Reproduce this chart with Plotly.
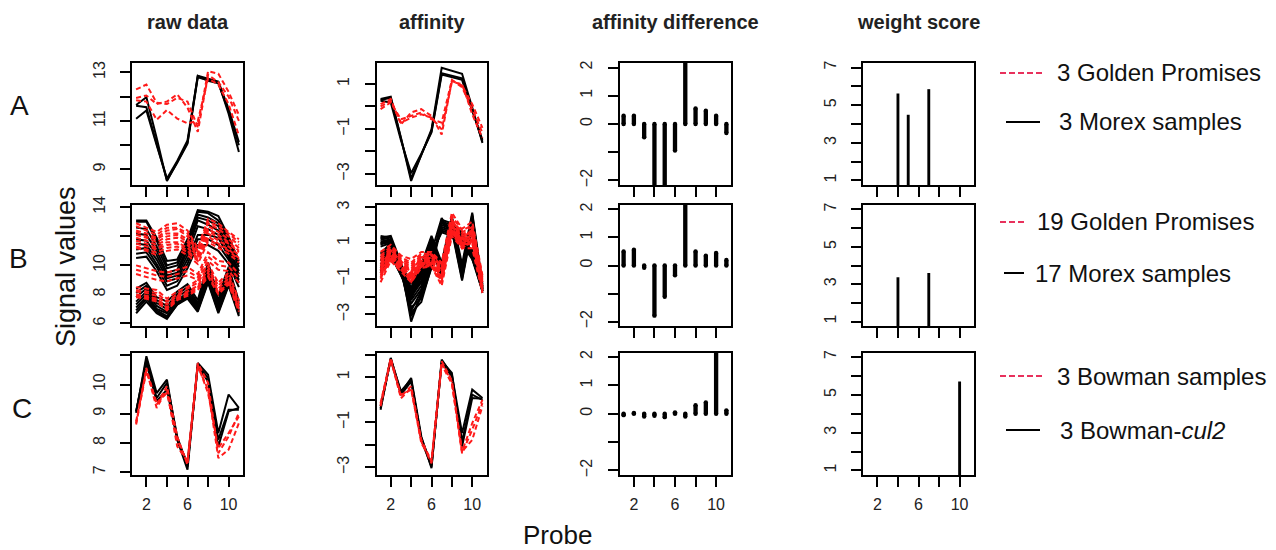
import plotly.graph_objects as go

# ---------------- data ----------------
probes = [1, 2, 3, 4, 5, 6, 7, 8, 9, 10, 11]

# Row A: 3 Golden Promises (red dashed) vs 3 Morex (black)
raw_A_morex = [
    [11.66, 11.98, 10.30, 8.52, 9.31, 10.10, 12.86, 12.73, 12.62, 11.50, 10.13],
    [11.63, 11.57, 10.06, 8.56, 9.28, 10.06, 12.80, 12.68, 12.60, 11.30, 9.72],
    [11.09, 11.43, 10.00, 8.63, 9.35, 10.20, 12.86, 12.66, 12.55, 11.42, 10.00],
]
raw_A_golden = [
    [12.30, 12.50, 11.75, 11.70, 11.95, 11.80, 10.75, 13.05, 12.95, 12.20, 11.25],
    [11.95, 12.05, 11.70, 11.80, 12.10, 11.55, 10.55, 12.90, 12.60, 12.00, 11.00],
    [11.85, 11.80, 11.05, 11.45, 11.10, 10.90, 11.00, 12.75, 12.50, 11.70, 10.40],
]
aff_A_morex = [
    [0.33, 0.43, -1.40, -3.31, -2.15, -1.02, 1.72, 1.60, 1.45, -0.05, -1.62],
    [0.25, 0.18, -1.50, -2.97, -2.10, -1.15, 1.42, 1.30, 1.18, -0.20, -1.48],
    [0.28, 0.38, -1.40, -3.19, -2.15, -1.10, 1.48, 1.38, 1.25, -0.12, -1.57],
]
aff_A_golden = [
    [0.10, 0.33, -0.80, -0.27, -0.12, -0.42, -1.25, 1.15, 0.93, 0.10, -0.95],
    [-0.12, 0.18, -0.57, -0.42, -0.27, -0.57, -0.72, 1.18, 0.85, -0.12, -1.17],
    [0.00, 0.25, -0.72, -0.50, -0.35, -0.50, -1.02, 1.08, 1.00, -0.35, -1.40],
]
diff_A = [0.29, 0.29, -0.47, -2.5, -2.5, -0.94, 2.5, 0.55, 0.47, 0.29, -0.32]
weight_A = [0, 0, 0, 5.62, 4.49, 0, 5.85, 0, 0, 0, 0]

# Row B: 19 Golden Promises (red dashed) vs 17 Morex (black)
raw_B_morex = [
    [13.1, 13.1, 11.9, 10.3, 10.4, 11.8, 13.8, 13.7, 13.4, 12.0, 10.3],
    [13.0, 13.0, 11.7, 10.0, 10.2, 11.6, 13.7, 13.6, 13.1, 11.8, 10.1],
    [12.6, 12.5, 11.3, 9.8, 10.0, 11.4, 13.5, 13.3, 12.9, 11.6, 9.9],
    [12.2, 12.1, 11.0, 9.5, 9.7, 11.2, 13.3, 13.1, 12.7, 11.3, 9.6],
    [11.8, 11.7, 10.7, 9.3, 9.5, 11.0, 13.1, 12.8, 12.4, 11.1, 9.4],
    [11.5, 11.4, 10.4, 9.1, 9.3, 10.7, 12.7, 12.5, 12.1, 10.8, 9.2],
    [11.1, 11.2, 10.1, 8.9, 9.1, 10.4, 12.1, 12.1, 11.9, 10.6, 9.0],
    [10.8, 10.9, 9.9, 8.6, 8.9, 10.1, 11.8, 11.8, 11.4, 10.4, 8.8],
    [10.5, 10.6, 9.6, 8.3, 8.6, 9.8, 11.4, 11.4, 11.0, 10.1, 8.5],
    [8.4, 8.8, 7.8, 7.5, 8.2, 8.7, 7.6, 10.2, 7.9, 9.9, 7.5],
    [8.1, 8.6, 7.6, 7.2, 8.0, 8.5, 7.4, 9.9, 7.6, 9.6, 7.3],
    [7.8, 8.4, 7.4, 7.0, 7.8, 8.3, 7.3, 9.7, 7.4, 9.4, 7.1],
    [7.5, 8.2, 7.2, 6.8, 7.6, 8.1, 7.2, 9.5, 7.2, 9.2, 6.9],
    [7.3, 8.0, 7.0, 6.7, 7.5, 8.0, 7.1, 9.3, 7.0, 9.0, 6.8],
    [7.1, 7.8, 6.9, 6.5, 7.4, 7.9, 7.0, 9.1, 6.9, 8.8, 6.7],
    [6.9, 7.7, 6.8, 6.4, 7.3, 7.8, 6.9, 8.9, 6.8, 8.7, 6.6],
    [6.7, 7.5, 6.7, 6.3, 7.3, 7.7, 6.8, 8.8, 6.7, 8.6, 6.5],
]
raw_B_golden = [
    [12.9, 12.6, 12.3, 12.8, 12.9, 12.4, 11.2, 13.2, 12.9, 12.3, 11.8],
    [12.7, 12.4, 12.1, 12.6, 12.6, 12.2, 11.0, 13.0, 12.7, 12.2, 11.6],
    [12.4, 12.2, 11.9, 12.4, 12.5, 12.0, 10.9, 12.9, 12.5, 12.0, 11.4],
    [12.3, 12.0, 11.8, 12.2, 12.2, 11.8, 10.8, 12.7, 12.3, 11.8, 11.2],
    [12.1, 11.9, 11.6, 12.0, 12.1, 11.6, 10.7, 12.5, 12.1, 11.6, 11.0],
    [11.9, 11.7, 11.4, 11.8, 11.9, 11.4, 10.6, 12.4, 11.9, 11.5, 10.9],
    [11.7, 11.5, 11.2, 11.6, 11.6, 11.2, 10.5, 12.2, 11.7, 11.3, 10.7],
    [11.5, 11.3, 11.1, 11.4, 11.5, 11.0, 10.4, 12.0, 11.5, 11.1, 10.5],
    [11.3, 11.1, 10.9, 11.2, 11.3, 10.9, 10.3, 11.8, 11.4, 11.0, 10.4],
    [11.2, 11.0, 10.7, 11.0, 11.1, 10.7, 10.1, 11.6, 11.2, 10.8, 10.2],
    [10.0, 9.8, 9.6, 9.5, 9.7, 9.9, 9.4, 10.9, 10.3, 10.2, 9.4],
    [9.7, 9.5, 9.3, 9.2, 9.4, 9.6, 9.2, 10.6, 10.0, 9.9, 9.1],
    [9.4, 9.2, 9.0, 8.9, 9.1, 9.3, 9.0, 10.3, 9.7, 9.6, 8.8],
    [8.5, 8.4, 8.3, 7.7, 8.2, 8.5, 9.0, 10.1, 8.8, 9.5, 7.6],
    [8.3, 8.2, 8.1, 7.5, 8.0, 8.4, 8.8, 9.9, 8.6, 9.3, 7.4],
    [8.2, 8.1, 7.9, 7.3, 7.9, 8.2, 8.6, 9.7, 8.4, 9.1, 7.2],
    [8.0, 7.9, 7.7, 7.1, 7.8, 8.1, 8.5, 9.5, 8.2, 8.9, 7.0],
    [7.9, 7.8, 7.6, 7.0, 7.7, 8.0, 8.4, 9.3, 8.1, 8.8, 6.9],
    [7.8, 7.7, 7.5, 6.9, 7.6, 7.9, 8.3, 9.2, 8.0, 8.7, 6.8],
]
aff_B_morex = [
    [1.4, 1.3, -0.3, -2.6, -2.1, -0.4, 2.0, 1.8, 1.5, 0.3, -1.5],
    [1.3, 1.2, -0.4, -2.9, -2.3, -0.3, 2.2, 2.0, 1.6, 0.2, -1.6],
    [1.2, 1.1, -0.5, -3.1, -2.0, -0.2, 2.3, 2.1, 1.4, 0.1, -1.7],
    [1.1, 1.0, -0.2, -3.4, -1.8, 0.0, 2.1, 1.9, 1.3, 0.4, -1.5],
    [1.0, 0.9, -0.6, -2.8, -1.7, 0.1, 1.9, 1.7, 1.2, 0.5, -1.4],
    [0.9, 1.2, -0.4, -2.4, -1.6, 0.2, 1.8, 1.6, 1.1, 0.6, -1.6],
    [1.3, 1.4, -0.1, -2.2, -1.4, 0.3, 1.7, 1.5, 1.0, 0.2, -1.7],
    [1.0, 1.1, -0.3, -2.0, -1.2, 0.4, 1.6, 1.4, 1.2, 0.3, -1.5],
    [0.8, 1.0, -0.5, -1.9, -1.1, 0.5, 2.4, 1.3, 0.9, 0.1, -1.4],
    [0.4, 1.0, -0.2, -1.3, -0.2, 1.4, -0.1, 2.5, -0.2, 2.7, -1.3],
    [0.2, 0.9, -0.3, -1.5, -0.3, 1.3, -0.3, 2.4, -0.4, 2.6, -1.4],
    [0.0, 0.8, -0.4, -1.6, -0.4, 1.2, -0.4, 2.2, -0.6, 2.5, -1.5],
    [-0.2, 0.7, -0.5, -1.7, -0.5, 1.1, -0.5, 2.1, -0.7, 2.3, -1.6],
    [-0.4, 0.6, -0.6, -1.8, -0.6, 1.0, -0.6, 2.0, -0.8, 2.2, -1.6],
    [-0.5, 0.5, -0.7, -1.9, -0.7, 0.9, -0.7, 1.9, -0.9, 2.1, -1.7],
    [-0.6, 0.4, -0.8, -2.0, -0.8, 0.8, -0.8, 1.8, -1.0, 2.0, -1.7],
    [-0.7, 0.3, -0.8, -2.1, -0.9, 0.7, -0.9, 1.7, -1.1, 1.9, -1.8],
]
aff_B_golden = [
    [0.5, 0.9, 0.3, 0.1, 0.5, 0.5, -0.1, 2.7, 1.8, 2.2, -0.8],
    [0.3, 0.8, 0.2, -0.1, 0.4, 0.4, -0.3, 2.5, 1.7, 2.0, -0.9],
    [0.2, 0.7, 0.1, -0.2, 0.3, 0.3, -0.4, 2.3, 1.6, 1.9, -1.0],
    [0.1, 0.6, 0.0, -0.3, 0.2, 0.2, -0.5, 2.2, 1.5, 1.7, -1.1],
    [0.0, 0.5, -0.1, -0.4, 0.1, 0.1, -0.6, 2.1, 1.4, 1.6, -1.1],
    [-0.1, 0.4, -0.2, -0.5, 0.0, 0.0, -0.7, 2.0, 1.3, 1.5, -1.2],
    [-0.2, 0.3, -0.2, -0.6, -0.1, 0.0, -0.8, 1.9, 1.2, 1.4, -1.2],
    [-0.3, 0.3, -0.3, -0.7, -0.1, -0.1, -0.9, 1.8, 1.1, 1.3, -1.3],
    [-0.4, 0.2, -0.3, -0.8, -0.2, -0.1, -1.0, 1.7, 1.0, 1.2, -1.3],
    [-0.5, 0.2, -0.4, -0.8, -0.2, -0.2, -1.1, 1.7, 1.0, 1.1, -1.4],
    [-0.6, 0.1, -0.4, -0.9, -0.3, -0.2, -1.1, 1.6, 0.9, 1.1, -1.4],
    [-0.7, 0.1, -0.5, -0.9, -0.3, -0.2, -1.2, 1.6, 0.9, 1.0, -1.5],
    [-0.8, 0.0, -0.5, -1.0, -0.3, -0.3, -1.2, 1.5, 0.8, 1.0, -1.5],
    [-0.3, 0.6, 0.0, -0.6, 0.2, 0.4, -0.2, 2.4, 1.2, 1.8, -1.6],
    [-0.5, 0.5, -0.1, -0.8, 0.1, 0.3, -0.4, 2.2, 1.1, 1.7, -1.6],
    [-0.7, 0.4, -0.2, -1.0, 0.0, 0.2, -0.6, 2.0, 1.0, 1.6, -1.7],
    [-0.9, 0.3, -0.3, -1.1, -0.2, 0.1, -0.8, 1.9, 0.8, 1.4, -1.7],
    [-1.0, 0.2, -0.4, -1.2, -0.3, 0.0, -1.0, 1.7, 0.7, 1.2, -1.7],
    [-1.2, 0.0, -0.6, -1.2, -0.4, -0.3, -1.4, 1.4, 0.7, 0.7, -1.8],
]
diff_B = [0.5, 0.56, -0.08, -1.79, -1.12, -0.35, 2.5, 0.5, 0.35, 0.45, 0.2]
weight_B = [0, 0, 0, 3.37, 0, 0, 3.6, 0, 0, 0, 0]

# Row C: 3 Bowman (red dashed) vs 3 Bowman-cul2 (black)
raw_C_cul2 = [
    [9.03, 10.97, 9.71, 10.17, 8.11, 7.08, 10.74, 10.34, 8.34, 9.66, 9.20],
    [9.08, 10.86, 9.54, 10.06, 8.22, 7.19, 10.68, 10.23, 8.11, 9.14, 9.14],
    [9.08, 10.74, 9.43, 9.83, 8.11, 7.31, 10.63, 10.11, 7.88, 9.08, 9.20],
]
raw_C_bowman = [
    [8.63, 10.57, 9.31, 9.94, 8.22, 7.25, 10.74, 10.06, 7.65, 8.22, 9.03],
    [8.74, 10.51, 9.20, 9.83, 7.88, 7.37, 10.63, 9.83, 7.48, 7.77, 8.68],
    [8.68, 10.46, 9.37, 9.71, 8.11, 7.31, 10.68, 9.71, 7.82, 8.34, 8.91],
]
aff_C_cul2 = [
    [-0.44, 1.86, 0.30, 0.97, -1.63, -3.04, 1.79, 1.12, -1.48, 0.45, 0.08],
    [-0.37, 1.79, 0.22, 0.82, -1.70, -2.89, 1.64, 1.04, -1.85, 0.23, 0.00],
    [-0.29, 1.82, 0.38, 0.90, -1.78, -2.97, 1.71, 1.19, -2.08, 0.08, 0.05],
]
aff_C_bowman = [
    [-0.15, 1.86, 0.15, 0.60, -1.78, -2.75, 1.71, 0.86, -2.30, -1.78, -0.29],
    [-0.29, 1.79, 0.07, 0.52, -1.93, -2.68, 1.56, 0.71, -2.30, -1.04, 0.00],
    [-0.22, 1.76, 0.22, 0.45, -1.85, -2.82, 1.64, 0.79, -2.38, -1.33, -0.15],
]
diff_C = [-0.05, 0.03, -0.10, -0.07, -0.12, 0.05, -0.10, 0.30, 0.40, 2.5, 0.12]
weight_C = [0, 0, 0, 0, 0, 0, 0, 0, 0, 5.71, 0]

col_titles = ["raw data", "affinity", "affinity difference", "weight score"]
row_labels = ["A", "B", "C"]
legend_red = ["3 Golden Promises", "19 Golden Promises", "3 Bowman samples"]
legend_black = ["3 Morex samples", "17 Morex samples", "3 Bowman-<i>cul2</i>"]

x_tickvals = [2, 4, 6, 8, 10]
x_ticktext = ["2", "", "6", "", "10"]

y_raw_A_ticks = [9, 10, 11, 12, 13]
y_raw_A_text = ["9", "", "11", "", "13"]
y_aff_A_ticks = [-3, -2, -1, 0, 1]
y_aff_A_text = ["\u22123", "", "\u22121", "", "1"]
y_diff_ticks = [-2, -1, 0, 1, 2]
y_diff_text = ["\u22122", "", "0", "1", "2"]
y_w_ticks = [1, 2, 3, 4, 5, 6, 7]
y_w_text = ["1", "", "3", "", "5", "", "7"]
y_raw_B_ticks = [6, 8, 10, 12, 14]
y_raw_B_text = ["6", "8", "10", "", "14"]
y_aff_B_ticks = [-3, -2, -1, 0, 1, 2, 3]
y_aff_B_text = ["\u22123", "", "\u22121", "", "1", "", "3"]
y_raw_C_ticks = [7, 8, 9, 10, 11]
y_raw_C_text = ["7", "8", "9", "10", ""]
y_aff_C_ticks = [-3, -2, -1, 0, 1, 2]
y_aff_C_text = ["\u22123", "", "\u22121", "", "1", ""]

# ---------------- layout geometry ----------------
W, H = 1276, 550
col_px = [(132, 243), (376.5, 486.5), (619.5, 730.5), (863, 974)]
row_px = [(63, 185), (205, 326), (352.5, 475)]
y_ranges = {
    (0, 0): [8.36, 13.39], (0, 1): [-3.49, 1.93], (0, 2): [-2.16, 2.16], (0, 3): [0.76, 7.24],
    (1, 0): [5.82, 14.16], (1, 1): [-3.65, 3.13], (1, 2): [-2.16, 2.16], (1, 3): [0.76, 7.24],
    (2, 0): [6.9, 11.1], (2, 1): [-3.34, 2.1], (2, 2): [-2.16, 2.16], (2, 3): [0.76, 7.24],
}
y_ticks = {
    (0, 0): (y_raw_A_ticks, y_raw_A_text), (0, 1): (y_aff_A_ticks, y_aff_A_text),
    (1, 0): (y_raw_B_ticks, y_raw_B_text), (1, 1): (y_aff_B_ticks, y_aff_B_text),
    (2, 0): (y_raw_C_ticks, y_raw_C_text), (2, 1): (y_aff_C_ticks, y_aff_C_text),
}
for r in range(3):
    y_ticks[(r, 2)] = (y_diff_ticks, y_diff_text)
    y_ticks[(r, 3)] = (y_w_ticks, y_w_text)

RED = "#ff1a1a"
BLACK = "#000000"
FONT = "Liberation Sans, Arial, sans-serif"

fig = go.Figure()


def ax(r, c):
    i = r * 4 + c + 1
    return ("x" if i == 1 else f"x{i}"), ("y" if i == 1 else f"y{i}"), i


def add_lines(r, c, black_sets, red_sets):
    xa, ya, _ = ax(r, c)
    for ys in black_sets:
        fig.add_trace(go.Scatter(x=probes, y=ys, mode="lines", xaxis=xa, yaxis=ya,
                                 line=dict(color=BLACK, width=2), showlegend=False,
                                 hoverinfo="skip"))
    for ys in red_sets:
        fig.add_trace(go.Scatter(x=probes, y=ys, mode="lines", xaxis=xa, yaxis=ya,
                                 line=dict(color=RED, width=2, dash="5px,3px"),
                                 showlegend=False, hoverinfo="skip"))


def add_diff(r, vals):
    xa, ya, _ = ax(r, 2)
    fig.add_trace(go.Bar(x=probes, y=vals, base=0, width=0.42, xaxis=xa, yaxis=ya,
                         marker=dict(color=BLACK, line=dict(width=0)),
                         showlegend=False, hoverinfo="skip"))
    fig.add_trace(go.Scatter(x=probes + probes, y=vals + [0] * len(vals), mode="markers",
                             xaxis=xa, yaxis=ya,
                             marker=dict(color=BLACK, size=4.4, line=dict(width=0)),
                             showlegend=False, hoverinfo="skip"))


def add_weight(r, vals):
    xa, ya, _ = ax(r, 3)
    fig.add_trace(go.Bar(x=probes, y=vals, base=0, width=0.28, xaxis=xa, yaxis=ya,
                         marker=dict(color=BLACK, line=dict(width=0)),
                         showlegend=False, hoverinfo="skip"))


add_lines(0, 0, raw_A_morex, raw_A_golden)
add_lines(0, 1, aff_A_morex, aff_A_golden)
add_diff(0, diff_A)
add_weight(0, weight_A)
add_lines(1, 0, raw_B_morex, raw_B_golden)
add_lines(1, 1, aff_B_morex, aff_B_golden)
add_diff(1, diff_B)
add_weight(1, weight_B)
add_lines(2, 0, raw_C_cul2, raw_C_bowman)
add_lines(2, 1, aff_C_cul2, aff_C_bowman)
add_diff(2, diff_C)
add_weight(2, weight_C)

layout = {}
for r in range(3):
    for c in range(4):
        xa, ya, i = ax(r, c)
        x0, x1 = col_px[c]
        t, b = row_px[r]
        xk = "xaxis" if i == 1 else f"xaxis{i}"
        yk = "yaxis" if i == 1 else f"yaxis{i}"
        common = dict(showline=True, mirror=True, linecolor=BLACK, linewidth=1.6,
                      ticks="outside", ticklen=10, tickwidth=1.5, tickcolor=BLACK,
                      showgrid=False, zeroline=False, fixedrange=True, automargin=False,
                      tickfont=dict(family=FONT, size=16, color="#222"))
        layout[xk] = dict(domain=[x0 / W, x1 / W], anchor=ya, range=[0.6, 11.4],
                          tickmode="array", tickvals=x_tickvals,
                          ticktext=x_ticktext if r == 2 else [""] * len(x_tickvals),
                          ticklabelstandoff=4, **common)
        tv, tt = y_ticks[(r, c)]
        layout[yk] = dict(domain=[1 - b / H, 1 - t / H], anchor=xa, range=y_ranges[(r, c)],
                          tickmode="array", tickvals=tv, ticktext=tt, tickangle=-90,
                          ticklabelstandoff=9, **common)

annotations = []
for c, title in enumerate(col_titles):
    x0, x1 = col_px[c]
    annotations.append(dict(text=f"<b>{title}</b>", x=(x0 + x1) / 2 / W, y=1 - 22 / H,
                            xref="paper", yref="paper", showarrow=False,
                            font=dict(family=FONT, size=20, color="#222"),
                            xanchor="center", yanchor="middle"))
row_label_px = [(20, 105), (18, 258), (22, 408)]
for lab, (px, py) in zip(row_labels, row_label_px):
    annotations.append(dict(text=lab, x=px / W, y=1 - py / H, xref="paper", yref="paper",
                            showarrow=False, font=dict(family=FONT, size=28, color="#111"),
                            xanchor="center", yanchor="middle"))
annotations.append(dict(text="Signal values", x=66 / W, y=1 - 267 / H, xref="paper",
                        yref="paper", showarrow=False, textangle=-90,
                        font=dict(family=FONT, size=27, color="#111"),
                        xanchor="center", yanchor="middle"))
annotations.append(dict(text="Probe", x=557 / W, y=1 - 535 / H, xref="paper", yref="paper",
                        showarrow=False, font=dict(family=FONT, size=26, color="#111"),
                        xanchor="center", yanchor="middle"))

shapes = []
leg_red_y = [73, 222, 376]
leg_black_y = [122, 273, 430]
leg_red_x = [(1000, 1043), (1000, 1027), (1000, 1043)]
leg_black_x = [(1006, 1040), (1004, 1024), (1006, 1040)]
leg_red_tx = [1055, 1035, 1055]
leg_black_tx = [1057, 1033, 1058]
LEG_RED = "#e8315c"
for k in range(3):
    (a, b2) = leg_red_x[k]
    shapes.append(dict(type="line", xref="paper", yref="paper", x0=a / W, x1=b2 / W,
                       y0=1 - leg_red_y[k] / H, y1=1 - leg_red_y[k] / H,
                       line=dict(color=LEG_RED, width=2, dash="6px,3px")))
    (a, b2) = leg_black_x[k]
    shapes.append(dict(type="line", xref="paper", yref="paper", x0=a / W, x1=b2 / W,
                       y0=1 - leg_black_y[k] / H, y1=1 - leg_black_y[k] / H,
                       line=dict(color=BLACK, width=2)))
    annotations.append(dict(text=legend_red[k], x=leg_red_tx[k] / W, y=1 - leg_red_y[k] / H,
                            xref="paper", yref="paper", showarrow=False, xanchor="left",
                            yanchor="middle", font=dict(family=FONT, size=24, color="#111")))
    annotations.append(dict(text=legend_black[k], x=leg_black_tx[k] / W,
                            y=1 - leg_black_y[k] / H, xref="paper", yref="paper",
                            showarrow=False, xanchor="left", yanchor="middle",
                            font=dict(family=FONT, size=24, color="#111")))

fig.update_layout(width=W, height=H, margin=dict(l=0, r=0, t=0, b=0, autoexpand=False),
                  paper_bgcolor="white", plot_bgcolor="white", showlegend=False,
                  annotations=annotations, shapes=shapes, barmode="overlay", **layout)

fig.write_html("out.html", include_plotlyjs=True, config={"displayModeBar": False},
               post_script="document.body.style.margin='0';document.body.style.padding='0';")
